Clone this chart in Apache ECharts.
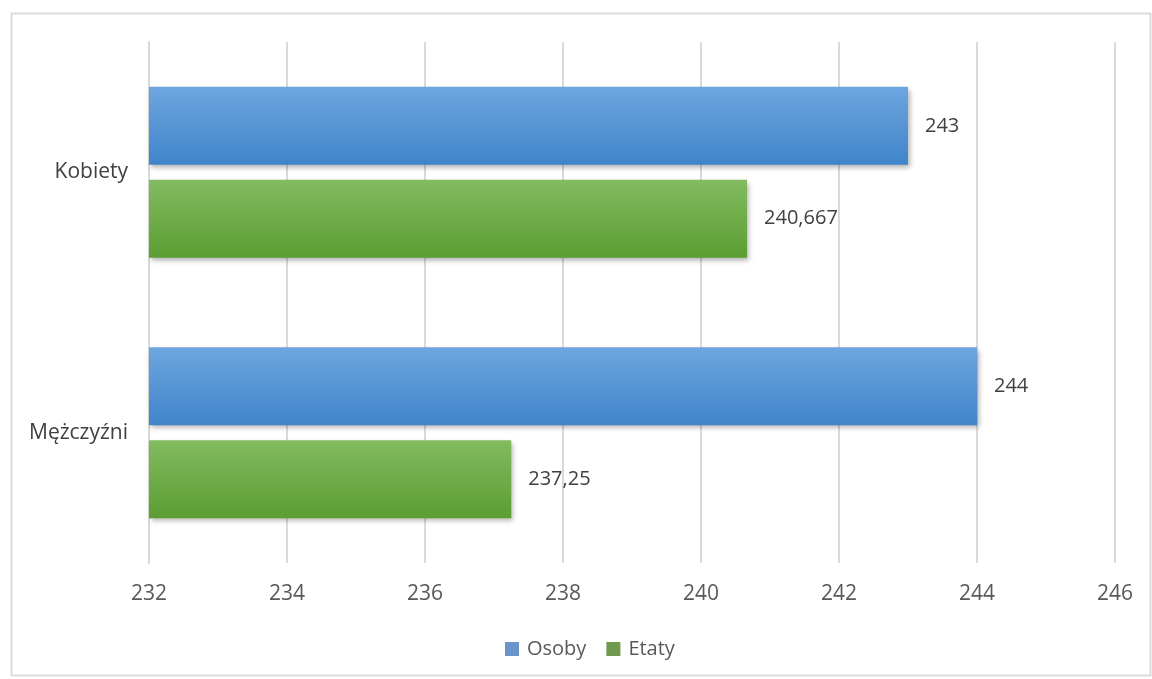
<!DOCTYPE html>
<html><head><meta charset="utf-8">
<script src="https://cdn.jsdelivr.net/npm/echarts@6/dist/echarts.min.js"></script>
<style>html,body{margin:0;padding:0;background:#fff}#c{width:1152px;height:679px}</style>
</head><body><div id="c"></div>
<script>
const categories = ['Kobiety', 'Mężczyźni'];
const osoby = [243, 244];
const etaty = [240.667, 237.25];
const seriesNames = ['Osoby', 'Etaty'];
const xMin = 232, xMax = 246, xStep = 2;

const chart = echarts.init(document.getElementById('c'), null, {renderer: 'canvas'});
const font = '"Open Sans", "Noto Sans", sans-serif';
function grad(top, bottom) {
  return new echarts.graphic.LinearGradient(0, 0, 0, 1, [{offset: 0, color: top}, {offset: 1, color: bottom}]);
}
const fmt = p => String(p.value).replace('.', ',');
const labelCfg = {show: true, position: 'right', distance: 17, color: '#404040', fontSize: 20, fontFamily: font, formatter: fmt};
chart.setOption({
  animation: false,
  graphic: [{type: 'rect', shape: {x: 11.5, y: 13.5, width: 1139, height: 662}, style: {fill: 'none', stroke: '#dcdcdc', lineWidth: 2}, z: -10}],
  grid: {left: 149, right: 37, top: 42, bottom: 116, containLabel: false},
  legend: {
    data: [
      {name: seriesNames[0], itemStyle: {color: '#6b93cc'}},
      {name: seriesNames[1], itemStyle: {color: '#6f9a4e'}}
    ],
    bottom: 15, left: 500, itemWidth: 14, itemHeight: 14, itemGap: 20,
    textStyle: {color: '#595959', fontSize: 20, fontFamily: font, padding: [0, 0, 0, 3]},
    icon: 'rect'
  },
  xAxis: {
    type: 'value', min: xMin, max: xMax, interval: xStep,
    axisLine: {show: false}, axisTick: {show: false},
    splitLine: {lineStyle: {color: '#d9d9d9', width: 2}},
    axisLabel: {color: '#595959', fontSize: 21, fontFamily: font, margin: 21}
  },
  yAxis: {
    type: 'category', data: categories, inverse: true,
    axisLine: {show: true, lineStyle: {color: '#d9d9d9', width: 2}}, axisTick: {show: false},
    axisLabel: {color: '#404040', fontSize: 21, fontFamily: font, margin: 21}
  },
  series: [
    {name: seriesNames[0], type: 'bar', data: osoby, barWidth: 78, barGap: '19%',
      itemStyle: {color: grad('#6ea6df', '#3f84ca'), shadowColor: 'rgba(0,0,0,0.3)', shadowBlur: 5, shadowOffsetX: 2, shadowOffsetY: 3},
      label: labelCfg},
    {name: seriesNames[1], type: 'bar', data: etaty, barWidth: 78,
      itemStyle: {color: grad('#83bb60', '#5c9e32'), shadowColor: 'rgba(0,0,0,0.3)', shadowBlur: 5, shadowOffsetX: 2, shadowOffsetY: 3},
      label: labelCfg}
  ]
});
</script></body></html>
